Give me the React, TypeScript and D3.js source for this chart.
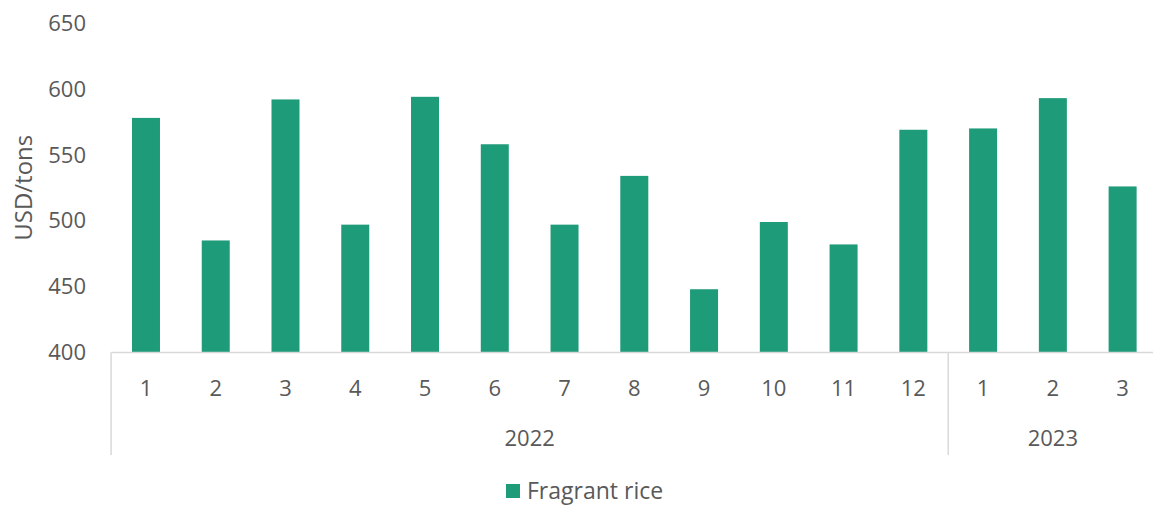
import React from "react";
import * as d3 from "d3";

const months = ["1","2","3","4","5","6","7","8","9","10","11","12","1","2","3"];
const years = [{ label: "2022", start: 0, end: 12 }, { label: "2023", start: 12, end: 15 }];
const values = [578, 485, 592, 497, 594, 558, 497, 534, 448, 499, 482, 569, 570, 593, 526];
const yTicks = [400, 450, 500, 550, 600, 650];
const seriesName = "Fragrant rice";

const W = 1153, H = 505;
const FONT = "'Open Sans', sans-serif";
const TEXT = "#595959";
const GRID = "#d9d9d9";
const BAR = "#1e9b78";

export default function App() {
  const x0 = 111.1, x1 = 1157.5;
  const n = values.length;
  const x = d3.scaleBand<number>().domain(d3.range(n)).range([x0, x1]);
  const step = x.step();
  const bw = 28;
  const y = d3.scaleLinear().domain([400, 650]).range([352.5, 23]);
  const axisY = y(400);
  const cx = (i: number) => (x(i) as number) + step / 2;
  return (
    <svg width={W} height={H} style={{ position: "absolute", left: 0, top: 0 }}>
      <rect width={W} height={H} fill="#fff" />
      {yTicks.map((t) => (
        <text key={t} x={86} y={y(t)} dy="0.35em" textAnchor="end" fontFamily={FONT} fontSize={22} fill={TEXT}>{t}</text>
      ))}
      <text transform={`translate(32,${(y(400) + y(650)) / 2}) rotate(-90)`} textAnchor="middle" fontFamily={FONT} fontSize={24} fill={TEXT}>USD/tons</text>
      {values.map((v, i) => (
        <rect key={i} x={cx(i) - bw / 2} y={y(v)} width={bw} height={axisY - y(v)} fill={BAR} />
      ))}
      <line x1={x0} x2={W} y1={axisY} y2={axisY} stroke={GRID} strokeWidth={1.5} />
      {[0, 12].map((b) => (
        <line key={b} x1={x0 + step * b} x2={x0 + step * b} y1={axisY} y2={455} stroke={GRID} strokeWidth={1.5} />
      ))}
      {months.map((m, i) => (
        <text key={i} x={cx(i)} y={388} dy="0.35em" textAnchor="middle" fontFamily={FONT} fontSize={22} fill={TEXT}>{m}</text>
      ))}
      {years.map((yr) => (
        <text key={yr.label} x={x0 + step * (yr.start + yr.end) / 2} y={438} dy="0.35em" textAnchor="middle" fontFamily={FONT} fontSize={22} fill={TEXT}>{yr.label}</text>
      ))}
      <rect x={506} y={484} width={14} height={14} fill={BAR} />
      <text x={527} y={491} dy="0.35em" fontFamily={FONT} fontSize={23} fill={TEXT}>{seriesName}</text>
    </svg>
  );
}
